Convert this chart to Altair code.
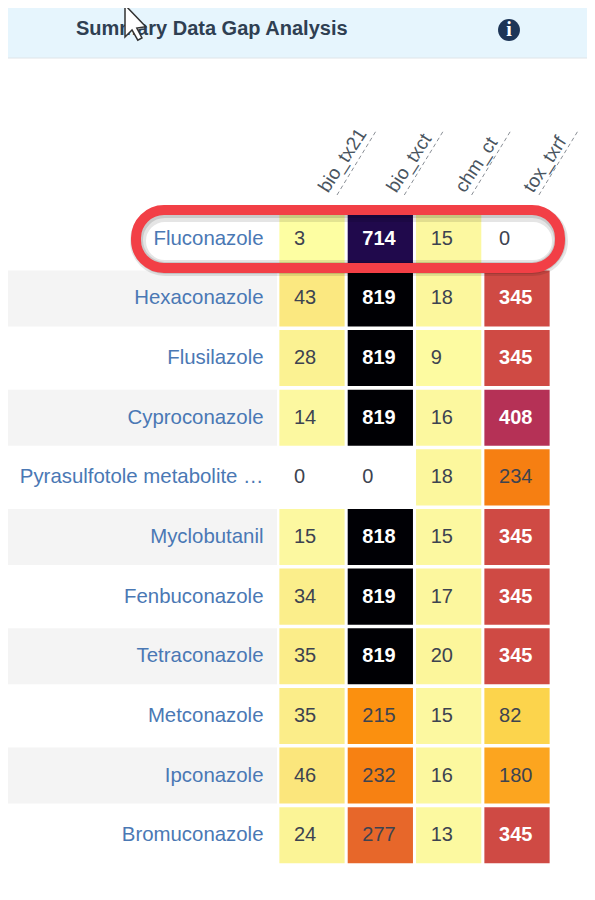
import altair as alt
import pandas as pd

rows = ["Fluconazole", "Hexaconazole", "Flusilazole", "Cyproconazole",
        "Pyrasulfotole metabolite …", "Myclobutanil", "Fenbuconazole",
        "Tetraconazole", "Metconazole", "Ipconazole", "Bromuconazole"]
cols = ["bio_tx21", "bio_txct", "chm_ct", "tox_txrf"]
bio_tx21 = [3, 43, 28, 14, 0, 15, 34, 35, 35, 46, 24]
bio_txct = [714, 819, 819, 819, 0, 818, 819, 819, 215, 232, 277]
chm_ct = [15, 18, 9, 16, 18, 15, 17, 20, 15, 16, 13]
tox_txrf = [0, 345, 345, 408, 234, 345, 345, 345, 82, 180, 345]
striped = rows[1::2]
stops = [3, 15, 28, 46, 82, 180, 215, 234, 277, 345, 408, 714, 819]
stop_colors = ["#fdfea2", "#fcf8a0", "#fbf292", "#fbe67c", "#fcd44c", "#fca51f", "#fb900f",
               "#f67f12", "#e7672a", "#cf4a44", "#b53156", "#20094c", "#000004"]
FONT = "Liberation Sans"

df = pd.DataFrame([
    {"row": r, "col": c, "value": v, "light": v >= 345}
    for c, series in zip(cols, [bio_tx21, bio_txct, chm_ct, tox_txrf])
    for r, v in zip(rows, series)
])
cells = alt.Chart(df)
one = alt.Chart(alt.Data(values=[{}]))

xs = alt.Scale(domain=cols, paddingInner=0.045, paddingOuter=0.02, round=False)
ys = alt.Scale(domain=rows, paddingInner=0.06, paddingOuter=0.03, round=False)
X = alt.X("col:N", scale=xs, title=None,
          axis=alt.Axis(orient="top", labelAngle=-57, labelAlign="left", labelBaseline="middle",
                        labelFont=FONT, labelFontSize=19, labelColor="#4a5560", labelPadding=19,
                        labelOffset=11, domain=False, ticks=False, grid=False))
Y = alt.Y("row:N", scale=ys, title=None,
          axis=alt.Axis(labelFont=FONT, labelFontSize=20.4, labelColor="#4a78b4", labelPadding=15,
                        labelLimit=270, domain=False, ticks=False, grid=False))

stripe = alt.Chart(pd.DataFrame({"row": striped})).mark_rect(color="#f4f4f4").encode(
    y=alt.Y("row:N", scale=ys, title=None), x=alt.value(-276), x2=alt.value(-1))
rect = cells.transform_filter("datum.value > 0").mark_rect().encode(
    x=X, y=Y,
    color=alt.Color("value:Q", legend=None,
                    scale=alt.Scale(domain=stops, range=stop_colors, type="linear")))
text_dark = cells.transform_filter("!datum.light").mark_text(
    align="left", dx=-18, font=FONT, fontSize=20, color="#3d4350").encode(
    x=alt.X("col:N", scale=xs, title=None), y=alt.Y("row:N", scale=ys, title=None), text="value:Q")
text_light = cells.transform_filter("datum.light").mark_text(
    align="left", dx=-18, font=FONT, fontSize=20, fontWeight="bold", color="#ffffff").encode(
    x=alt.X("col:N", scale=xs, title=None), y=alt.Y("row:N", scale=ys, title=None), text="value:Q")

# dashed underlines of the rotated headers
dashes = []
for i in range(len(cols)):
    x0 = 59 + i * 67.3
    dashes.append(one.mark_rule(color="#8a8f96", strokeDash=[4, 3], strokeWidth=1).encode(
        x=alt.value(x0), x2=alt.value(x0 + 39), y=alt.value(-14), y2=alt.value(-78)))

def box(mark):
    return mark.encode(x=alt.value(-142), x2=alt.value(282), y=alt.value(1), y2=alt.value(59))

shadow1 = one.mark_rect(filled=False, stroke="#000000", strokeOpacity=0.10, strokeWidth=16,
                        cornerRadius=28, xOffset=2, yOffset=4)
shadow2 = one.mark_rect(filled=False, stroke="#000000", strokeOpacity=0.12, strokeWidth=12,
                        cornerRadius=28, xOffset=1, yOffset=2)
ring = one.mark_rect(filled=False, stroke="#f23f46", strokeWidth=10, cornerRadius=28)

header = one.mark_rect(color="#e6f5fd", stroke="#dfe4e8", strokeWidth=1).encode(
    x=alt.value(-290), x2=alt.value(330), y=alt.value(-215), y2=alt.value(-151))
title = one.mark_text(text="Summary Data Gap Analysis", font=FONT, fontSize=20, fontWeight="bold",
                      color="#2f3f52", align="left").encode(x=alt.value(-202), y=alt.value(-180))
info = one.mark_point(filled=True, shape="circle", size=480, color="#1d3557", opacity=1).encode(
    x=alt.value(231), y=alt.value(-179))
info_i = one.mark_text(text="i", font="Liberation Serif", fontSize=20, fontWeight="bold",
                       color="#ffffff").encode(x=alt.value(231), y=alt.value(-179))
cursor = one.mark_point(
    shape="M0,0 L0,1 L.22,.78 L.4,1.1 L.53,1.03 L.37,.72 L.65,.68 Z",
    filled=True, fill="#ffffff", stroke="#333333", strokeWidth=1.5, opacity=1, size=4096).encode(
    x=alt.value(-153), y=alt.value(-204))

chart = alt.layer(
    stripe, rect, text_dark, text_light, *dashes,
    box(shadow1), box(shadow2), box(ring),
    header, title, info, info_i, cursor,
).properties(
    width=273, height=656,
    padding={"left": 270, "top": 201, "right": 36, "bottom": 4},
    autosize=alt.AutoSizeParams(type="none"),
).configure_view(strokeWidth=0)

chart.save("out.html", embed_options={"renderer": "svg", "actions": False})
